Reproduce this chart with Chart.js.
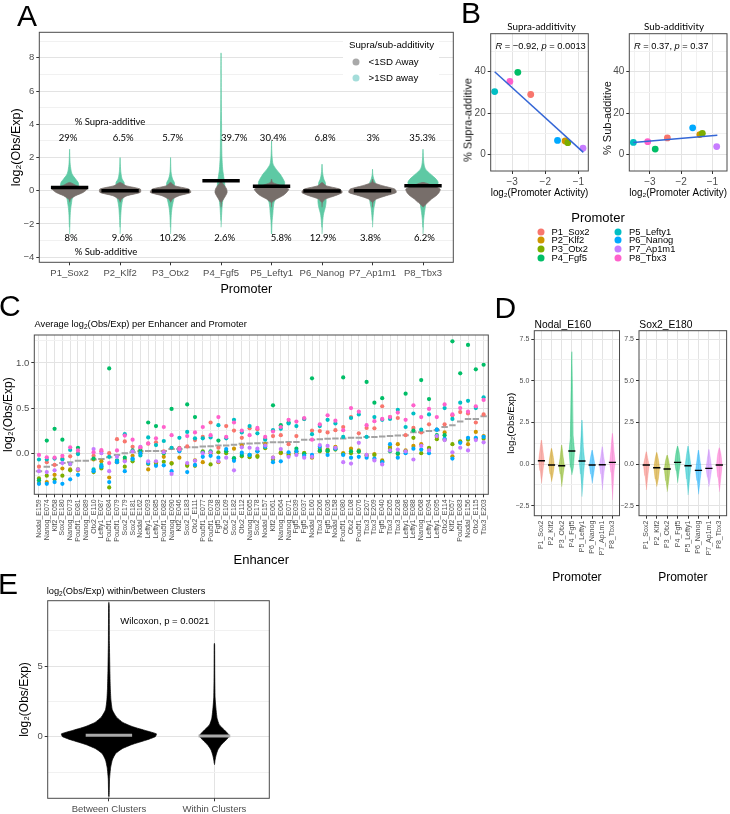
<!DOCTYPE html>
<html lang="en">
<head>
<meta charset="UTF-8" />
<title>Supra- and sub-additivity</title>
<script src="https://cdn.jsdelivr.net/npm/chart.js@4.4.1/dist/chart.umd.min.js"></script>
<style>
  body { margin: 0; background: #fff; }
  #fig { position: relative; width: 730px; height: 814px; overflow: hidden; font-family: "Liberation Sans", Arial, sans-serif; color: #000; }
  #fig canvas { position: absolute; }
  .t { position: absolute; white-space: nowrap; line-height: 1; transform: translateY(-50%); }
  .c { transform: translate(-50%, -50%); }
  .v { transform: translate(-50%, -50%) rotate(-90deg); }
  .letter { font-size: 30px; }
  .myriad { font-family: Lato, "Open Sans", sans-serif; }
  .dot { position: absolute; border-radius: 50%; transform: translate(-50%, -50%); }
  .box { position: absolute; background: #fff; }
  sub { font-size: 70%; vertical-align: -0.25em; line-height: 0; }
</style>
</head>
<body>
<div id="fig">
  <canvas id="chartA" width="460" height="300" style="left:0;top:0"></canvas>
  <canvas id="chartB1" width="134" height="200" style="left:460px;top:0"></canvas>
  <canvas id="chartB2" width="135" height="200" style="left:596px;top:0"></canvas>
  <canvas id="chartC" width="495" height="255" style="left:0;top:318px"></canvas>
  <canvas id="chartD1" width="118" height="272" style="left:505px;top:318px"></canvas>
  <canvas id="chartD2" width="112" height="272" style="left:618px;top:318px"></canvas>
  <canvas id="chartE" width="275" height="224" style="left:0;top:590px"></canvas>

  <!-- panel letters -->
  <div class="t letter" style="left:17px;top:16px">A</div>
  <div class="t letter" style="left:461px;top:13px">B</div>
  <div class="t letter" style="left:-1px;top:306px">C</div>
  <div class="t letter" style="left:494.5px;top:308px">D</div>
  <div class="t letter" style="left:-2px;top:584px">E</div>

  <!-- A legend -->
  <div class="box" style="left:343px;top:37px;width:96px;height:49px"></div>
  <div class="t" style="left:349px;top:44.5px;font-size:9.7px">Supra/sub-additivity</div>
  <div class="dot" style="left:356px;top:62px;width:7px;height:7px;background:#A9A9A9"></div>
  <div class="t" style="left:368.5px;top:62px;font-size:9.7px">&lt;1SD Away</div>
  <div class="dot" style="left:356px;top:78.3px;width:7px;height:7px;background:#A4DDDA"></div>
  <div class="t" style="left:368.5px;top:78.3px;font-size:9.7px">&gt;1SD away</div>

  <!-- B texts -->
  <div class="t c myriad" style="left:541.5px;top:26.5px;font-size:9.8px">Supra-additivity</div>
  <div class="t c myriad" style="left:674px;top:26.7px;font-size:9.8px">Sub-additivity</div>
  <div class="t" style="left:495.5px;top:47.3px;font-size:9.3px"><i>R</i> = &minus;0.92, <i>p</i> = 0.0013</div>
  <div class="t" style="left:634px;top:46.7px;font-size:9.3px"><i>R</i> = 0.37, <i>p</i> = 0.37</div>
  <div class="t v" style="left:468px;top:120px;font-size:11px;color:#111">% Supra-additive</div>
  <div class="t v" style="left:607px;top:118px;font-size:11px;color:#111">% Sub-additive</div>
  <div class="t c" style="left:598px;top:217.3px;font-size:13px">Promoter</div>
  <div id="legendB"></div>

  <!-- C, D, E titles -->
  <div class="t" style="left:34.5px;top:325px;font-size:9.3px">Average log<sub>2</sub>(Obs/Exp) per Enhancer and Promoter</div>
  <div class="t" style="left:534.5px;top:325px;font-size:10.3px">Nodal_E160</div>
  <div class="t" style="left:639.3px;top:325px;font-size:10.3px">Sox2_E180</div>
  <div class="t" style="left:46.7px;top:591.7px;font-size:9.3px">log<sub>2</sub>(Obs/Exp) within/between Clusters</div>
</div>

<script>
// ---------------- data ----------------
const promoters = ['P1_Sox2', 'P2_Klf2', 'P3_Otx2', 'P4_Fgf5', 'P5_Lefty1', 'P6_Nanog', 'P7_Ap1m1', 'P8_Tbx3'];
const promoterColors = ['#F8766D', '#CD9600', '#7CAE00', '#00BE67', '#00BFC4', '#00A9FF', '#C77CFF', '#FF61CC'];

// panel A
const supraPct = [29, 6.5, 5.7, 39.7, 30.4, 6.8, 3, 35.3];
const subPct = [8, 9.6, 10.2, 2.6, 5.8, 12.9, 3.8, 6.2];
const meanA = [0.2, 0.0, -0.02, 0.6, 0.27, -0.02, 0.0, 0.3];
const violinLevels = [-2.6, -2.2, -1.8, -1.4, -1.0, -0.7, -0.5, -0.3, -0.1, 0.1, 0.3, 0.5, 0.7, 1.0, 1.3, 1.6, 2.0, 2.5, 3, 4, 5, 6, 7, 8.3];
// half widths (in category units) of the >1SD (teal) and <1SD (grey) clouds
const tealP1 = [0, 0.004, 0.008, 0.013, 0.025, 0.04, 0.05, 0.08, 0.12, 0.15, 0.18, 0.17, 0.12, 0.05, 0.025, 0.012, 0.005, 0, 0, 0, 0, 0, 0, 0];
const tealP2 = [0, 0.003, 0.008, 0.015, 0.025, 0.04, 0.055, 0.07, 0.08, 0.08, 0.08, 0.08, 0.04, 0.02, 0.01, 0.005, 0, 0, 0, 0, 0, 0, 0, 0];
const tealP3 = [0, 0.004, 0.008, 0.015, 0.03, 0.05, 0.065, 0.07, 0.075, 0.08, 0.08, 0.075, 0.04, 0.015, 0.006, 0.003, 0, 0, 0, 0, 0, 0, 0, 0];
const tealP4 = [0, 0, 0.005, 0.012, 0.02, 0.03, 0.04, 0.06, 0.07, 0.075, 0.075, 0.07, 0.06, 0.045, 0.032, 0.025, 0.018, 0.014, 0.012, 0.01, 0.006, 0.003, 0.002, 0];
const tealP5 = [0.003, 0.006, 0.012, 0.025, 0.035, 0.05, 0.08, 0.1, 0.15, 0.2, 0.25, 0.26, 0.23, 0.17, 0.09, 0.03, 0.012, 0.004, 0, 0, 0, 0, 0, 0];
const tealP6 = [0, 0.006, 0.014, 0.03, 0.065, 0.08, 0.08, 0.07, 0.07, 0.07, 0.07, 0.065, 0.035, 0.015, 0.005, 0, 0, 0, 0, 0, 0, 0, 0, 0];
const tealP7 = [0, 0, 0.006, 0.015, 0.03, 0.05, 0.055, 0.06, 0.06, 0.06, 0.06, 0.055, 0.025, 0.005, 0, 0, 0, 0, 0, 0, 0, 0, 0, 0];
const tealP8 = [0, 0.006, 0.012, 0.025, 0.045, 0.06, 0.1, 0.15, 0.2, 0.25, 0.28, 0.3, 0.26, 0.15, 0.05, 0.02, 0.008, 0, 0, 0, 0, 0, 0, 0];
const greyP1 = [0, 0, 0, 0, 0, 0, 0.02, 0.12, 0.27, 0.34, 0.14, 0, 0, 0, 0, 0, 0, 0, 0, 0, 0, 0, 0, 0];
const greyP2 = [0, 0, 0, 0, 0, 0, 0.03, 0.14, 0.4, 0.4, 0.12, 0, 0, 0, 0, 0, 0, 0, 0, 0, 0, 0, 0, 0];
const greyP3 = [0, 0, 0, 0, 0, 0, 0.04, 0.17, 0.4, 0.36, 0.08, 0, 0, 0, 0, 0, 0, 0, 0, 0, 0, 0, 0, 0];
const greyP4 = [0, 0, 0, 0, 0, 0.01, 0.05, 0.09, 0.12, 0.11, 0.07, 0.02, 0, 0, 0, 0, 0, 0, 0, 0, 0, 0, 0, 0];
const greyP5 = [0, 0, 0, 0, 0, 0.01, 0.1, 0.22, 0.3, 0.34, 0.2, 0.02, 0, 0, 0, 0, 0, 0, 0, 0, 0, 0, 0, 0];
const greyP6 = [0, 0, 0, 0, 0, 0.01, 0.07, 0.26, 0.4, 0.35, 0.08, 0, 0, 0, 0, 0, 0, 0, 0, 0, 0, 0, 0, 0];
const greyP7 = [0, 0, 0, 0, 0, 0.01, 0.08, 0.27, 0.47, 0.44, 0.2, 0.02, 0, 0, 0, 0, 0, 0, 0, 0, 0, 0, 0, 0];
const greyP8 = [0, 0, 0, 0, 0, 0.1, 0.17, 0.26, 0.32, 0.34, 0.2, 0, 0, 0, 0, 0, 0, 0, 0, 0, 0, 0, 0, 0];
const tealWidths = [tealP1, tealP2, tealP3, tealP4, tealP5, tealP6, tealP7, tealP8];
const greyWidths = [greyP1, greyP2, greyP3, greyP4, greyP5, greyP6, greyP7, greyP8];
const supraShift = [-0.03, 0.06, 0.04, 0.26, 0.03, 0.06, 0.01, -0.01];
const subShift = [0.03, 0.04, 0.04, 0.07, 0.19, 0.02, -0.04, 0.03];
const ticksA = [-4, -3, -2, -1, 0, 1, 2, 3, 4, 5, 6, 7, 8, 9];

// panel B
const promoterActivity = [-2.44, -1.40, -1.32, -2.83, -3.53, -1.63, -0.86, -3.07];
const supraFitX = [-3.53, -0.85];
const supraFitY = [40.0, 1.0];
const subFitX = [-3.53, -0.84];
const subFitY = [5.8, 9.3];
const ticksBx = [-3.5, -3, -2.5, -2, -1.5, -1];
const ticksBy = [0, 10, 20, 30, 40, 50];

// panel C
const enhancers = ['Nodal_E159', 'Nanog_E074', 'Klf2_E058', 'Sox2_E180', 'Nanog_E073', 'Pou5f1_E081', 'Nanog_E089', 'Otx2_E110',
  'Lefty1_E087', 'Pou5f1_E084', 'Pou5f1_E079', 'Sox2_E179', 'Sox2_E181', 'Nodal_E162', 'Lefty1_E093', 'Lefty1_E085',
  'Pou5f1_E082', 'Nanog_E090', 'Klf2_E046', 'Sox2_E183', 'Otx2_E111', 'Pou5f1_E077', 'Pou5f1_E078', 'Fgf5_E038',
  'Otx2_E109', 'Sox2_E182', 'Otx2_E112', 'Nanog_E065', 'Sox2_E178', 'Nodal_E157', 'Klf2_E061', 'Nanog_E064',
  'Nanog_E071', 'Fgf5_E039', 'Fgf5_E037', 'Nodal_E160', 'Tbx3_E206', 'Fgf5_E036', 'Nodal_E158', 'Pou5f1_E080',
  'Otx2_E108', 'Pou5f1_E076', 'Tbx3_E207', 'Tbx3_E209', 'Fgf5_E040', 'Tbx3_E205', 'Tbx3_E208', 'Lefty1_E086',
  'Lefty1_E088', 'Nanog_E068', 'Lefty1_E094', 'Lefty1_E095', 'Otx2_E114', 'Klf2_E057', 'Pou5f1_E083', 'Nodal_E156',
  'Otx2_E115', 'Tbx3_E203'];
const cSox2 = [-0.15, -0.10, -0.13, -0.06, -0.035, 0.0, null, -0.03, 0.02, 0.0,
  0.155, 0.13, 0.07, 0.05, 0.105, 0.12, 0.02, 0.055, 0.06, 0.075,
  0.145, 0.18, 0.34, 0.06, 0.30, 0.25, 0.17, 0.275, 0.265, 0.16,
  0.19, 0.20, 0.10, 0.19, 0.38, 0.25, 0.245, 0.23, 0.255, 0.29,
  0.40, 0.22, 0.28, 0.275, 0.52, 0.40, 0.39, 0.20, 0.28, 0.23,
  0.32, 0.26, 0.32, 0.42, 0.455, 0.44, 0.34, 0.43];
const cKlf2 = [-0.33, -0.32, -0.24, -0.17, -0.18, -0.19, null, -0.07, -0.09, -0.27,
  -0.09, -0.075, -0.03, 0.02, -0.18, -0.10, -0.04, -0.11, -0.05, -0.13,
  -0.08, -0.10, 0.0, -0.10, 0.02, 0.05, 0.085, -0.03, -0.03, 0.10,
  -0.05, 0.0, -0.01, 0.02, 0.0, -0.05, 0.05, 0.04, 0.07, 0.0,
  0.05, 0.03, -0.02, -0.01, -0.08, 0.07, 0.10, 0.03, 0.08, 0.10,
  0.05, 0.18, 0.23, -0.035, 0.125, 0.10, 0.235, 0.19];
const cOtx2 = [-0.28, -0.25, -0.29, -0.25, -0.19, -0.18, null, -0.21, -0.17, -0.38,
  -0.10, -0.15, -0.09, 0.0, -0.12, -0.12, -0.095, -0.115, 0.03, -0.14,
  -0.14, 0.02, -0.125, 0.01, 0.0, -0.06, -0.035, -0.045, -0.04, 0.055,
  -0.07, 0.01, -0.02, 0.0, 0.0, -0.04, 0.02, 0.02, 0.04, -0.01,
  0.0, 0.015, -0.03, -0.02, -0.09, 0.05, -0.01, 0.02, 0.17, 0.0,
  0.06, 0.155, 0.15, 0.10, 0.13, 0.15, 0.16, 0.16];
const cFgf5 = [-0.30, 0.14, 0.27, 0.15, -0.12, 0.06, null, -0.06, -0.15, 0.94,
  -0.08, -0.05, 0.03, 0.03, 0.34, 0.30, 0.0, 0.49, 0.05, 0.54,
  0.40, 0.01, 0.02, 0.14, 0.02, -0.055, -0.02, -0.02, 0.02, 0.08,
  0.53, 0.31, 0.34, 0.05, -0.01, 0.83, 0.03, 0.03, 0.05, 0.84,
  0.02, 0.02, 0.79, 0.56, 0.61, 0.02, 0.0, 0.66, 0.25, 0.81,
  0.60, 0.20, 0.20, 1.24, 0.885, 1.20, 0.93, 0.98];
const cLefty1 = [-0.07, -0.07, -0.06, -0.07, 0.035, -0.01, null, -0.18, -0.13, -0.04,
  -0.085, 0.21, -0.07, -0.025, 0.175, 0.09, 0.135, 0.06, 0.17, 0.235,
  0.165, 0.165, 0.175, 0.31, 0.165, 0.37, 0.23, 0.30, 0.22, 0.15,
  0.255, 0.27, 0.33, 0.30, 0.38, 0.21, 0.30, 0.37, 0.33, 0.18,
  0.39, 0.43, 0.18, 0.40, 0.37, 0.38, 0.48, 0.29, 0.44, 0.26,
  0.43, 0.26, 0.50, 0.38, 0.56, 0.58, 0.50, 0.62];
const cNanog = [-0.34, -0.34, -0.32, -0.34, -0.29, -0.24, null, -0.20, -0.15, -0.32,
  -0.10, -0.20, -0.06, 0.0, -0.11, -0.14, -0.135, -0.20, 0.02, -0.21,
  -0.13, -0.04, -0.03, -0.05, 0.045, -0.085, 0.005, -0.02, 0.02, 0.07,
  -0.10, -0.09, 0.01, 0.02, -0.03, -0.02, 0.07, -0.02, 0.05, -0.02,
  -0.05, -0.04, -0.05, -0.06, -0.10, 0.10, -0.05, 0.0, 0.05, 0.04,
  0.0, 0.26, 0.16, -0.06, 0.115, 0.17, 0.17, 0.18];
const cAp1m1 = [-0.20, -0.21, -0.19, -0.11, -0.12, -0.18, null, 0.045, 0.0, -0.20,
  -0.04, -0.09, 0.02, 0.07, -0.09, -0.09, 0.01, -0.23, 0.04, -0.11,
  -0.085, 0.0, 0.01, -0.09, -0.05, -0.19, 0.065, 0.06, 0.05, 0.085,
  -0.05, 0.045, -0.04, -0.02, -0.05, -0.04, 0.09, 0.08, 0.06, -0.10,
  -0.115, 0.115, -0.02, -0.08, -0.125, 0.03, 0.04, 0.02, -0.07, 0.08,
  0.03, 0.19, 0.145, 0.01, 0.06, 0.03, 0.145, 0.12];
const cTbx3 = [-0.02, -0.045, -0.05, -0.03, 0.065, 0.03, null, 0.01, 0.035, -0.11,
  0.03, 0.195, 0.15, 0.065, 0.11, 0.165, 0.29, 0.20, 0.05, 0.19,
  0.23, 0.29, 0.20, 0.40, 0.18, 0.34, 0.25, 0.20, 0.28, 0.18,
  0.24, 0.29, 0.37, 0.35, 0.39, 0.15, 0.32, 0.42, 0.36, 0.255,
  0.50, 0.46, 0.31, 0.355, 0.38, 0.40, 0.45, 0.37, 0.53, 0.40,
  0.49, 0.40, 0.54, 0.43, 0.50, 0.46, 0.52, 0.59];
const cMean = [-0.20, -0.15, -0.13, -0.11, -0.10, -0.085, -0.085, -0.07, -0.065, -0.045,
  -0.02, 0.0, 0.01, 0.02, 0.025, 0.025, 0.025, 0.045, 0.045, 0.065,
  0.065, 0.075, 0.078, 0.085, 0.085, 0.093, 0.104, 0.107, 0.11, 0.115,
  0.12, 0.12, 0.125, 0.125, 0.15, 0.15, 0.155, 0.16, 0.163, 0.163,
  0.17, 0.17, 0.178, 0.178, 0.185, 0.19, 0.196, 0.20, 0.233, 0.233,
  0.245, 0.255, 0.29, 0.31, 0.35, 0.38, 0.38, 0.41];
const ticksCy = [-0.25, 0, 0.25, 0.5, 0.75, 1.0, 1.25];

// panel D (spread of each promoter cloud for two enhancers)
const nodalMin = [-1.16, -1.06, -1.36, -0.66, -1.96, -1.16, -1.56, -2.16];
const nodalLow = [-0.4, -0.6, -0.6, -0.2, -0.6, -0.6, -0.6, -0.5];
const nodalMean = [0.2, -0.06, -0.1, 0.78, 0.18, -0.06, -0.04, 0.1];
const nodalHigh = [0.8, 0.5, 0.4, 1.6, 0.9, 0.4, 0.4, 0.8];
const nodalMax = [1.44, 0.94, 1.14, 6.74, 2.64, 0.84, 1.04, 1.84];
const sox2Min = [-1.56, -1.36, -1.66, -1.12, -1.86, -1.82, -1.36, -1.66];
const sox2Low = [-0.7, -0.9, -1.0, -0.4, -0.9, -1.0, -0.8, -0.8];
const sox2Mean = [-0.06, -0.22, -0.3, 0.1, -0.1, -0.38, -0.26, -0.06];
const sox2High = [0.3, 0.3, 0.2, 0.7, 0.5, 0.2, 0.3, 0.6];
const sox2Max = [0.74, 0.7, 0.54, 1.08, 1.08, 0.84, 0.88, 0.98];
const ticksDy = [-2.5, -1.25, 0, 1.25, 2.5, 3.75, 5, 6.25, 7.5];

// panel E
const clusterNames = ['Between Clusters', 'Within Clusters'];
const clusterMean = [0.1, 0.05];
const betweenLevels = [-4.3, -4.2, -3.7, -3.0, -2.2, -1.65, -1.2, -0.85, -0.55, -0.25, 0.0, 0.2, 0.42, 0.7, 1.0, 1.4, 1.9, 2.6, 3.5, 4.7, 6.6, 9.3, 9.5];
const betweenWidth = [0, 0.002, 0.004, 0.006, 0.016, 0.032, 0.063, 0.126, 0.22, 0.35, 0.44, 0.45, 0.354, 0.227, 0.133, 0.07, 0.032, 0.019, 0.013, 0.009, 0.005, 0.003, 0];
const withinLevels = [-2.0, -1.9, -1.65, -1.3, -0.94, -0.59, -0.24, 0.07, 0.47, 0.83, 1.3, 2.1, 2.8, 4.5, 6.5, 6.6];
const withinWidth = [0, 0.002, 0.006, 0.016, 0.032, 0.063, 0.11, 0.142, 0.095, 0.047, 0.025, 0.013, 0.006, 0.003, 0.002, 0];
const ticksEy = [-2.5, 0, 2.5, 5, 7.5];

// ---------------- helpers ----------------
const TEAL = '#5EC9A4', GREY_BODY = '#776E6A';
const GRID = '#E3E3E3', GRID_MINOR = '#F1F1F1', TICK_LINE = '#333333', TICK_TEXT = '#4D4D4D';
const minus = v => (v < 0 ? '\u2212' : '') + Math.abs(v);
const minus1 = v => (v < 0 ? '\u2212' : '') + Math.abs(v).toFixed(1);
const isMult = (v, m) => Math.abs(v / m - Math.round(v / m)) < 1e-6;
const range = n => Array.from({ length: n }, (_, i) => i);

const notes = {};
Chart.register({
  id: 'frame',
  afterDatasetsDraw(chart) {
    const { ctx, chartArea: a, canvas } = chart;
    ctx.save();
    ctx.strokeStyle = '#4A4A4A';
    ctx.lineWidth = 1;
    ctx.strokeRect(a.left, a.top, a.right - a.left, a.bottom - a.top);
    (notes[canvas.id] || []).forEach(it => {
      ctx.font = it.font;
      ctx.fillStyle = '#000';
      ctx.textAlign = it.align || 'center';
      ctx.textBaseline = 'middle';
      ctx.fillText(it.text, chart.scales.x.getPixelForValue(it.x), chart.scales.y.getPixelForValue(it.y));
    });
    ctx.restore();
  }
});

function axis(o) {
  const major = o.major || (() => true);
  return {
    type: 'linear', min: o.min, max: o.max,
    afterBuildTicks: s => { s.ticks = o.ticks.map(v => ({ value: v })); },
    afterFit: s => { if (s.isHorizontal()) s.height = o.size; else s.width = o.size; },
    border: { display: false },
    grid: {
      drawOnChartArea: o.grid !== false,
      color: c => (c.tick && major(c.tick.value)) ? GRID : GRID_MINOR,
      tickLength: 3,
      tickColor: c => (c.tick && major(c.tick.value)) ? TICK_LINE : 'rgba(0,0,0,0)'
    },
    ticks: {
      autoSkip: false, maxRotation: o.rot || 0, minRotation: o.rot || 0,
      padding: 2, color: TICK_TEXT, font: { size: o.font || 9.5 },
      callback: v => major(v) ? o.label(v) : ''
    },
    title: o.title
      ? { display: true, text: o.title, color: '#000', font: { size: o.titleSize || 12 }, padding: o.titlePad }
      : { display: false }
  };
}

function build(id, datasets, x, y, top, right) {
  return new Chart(document.getElementById(id), {
    type: 'line',
    data: { datasets },
    options: {
      responsive: false, animation: false, devicePixelRatio: 1, events: [],
      layout: { padding: { top, right, bottom: 0, left: 0 } },
      plugins: { legend: { display: false }, tooltip: { enabled: false } },
      scales: { x, y }
    }
  });
}

// closed outline of a cloud: up the right side, back down the left side
function violinPath(center, levels, widths) {
  let a = widths.findIndex(w => w > 0);
  let b = widths.length - 1 - [...widths].reverse().findIndex(w => w > 0);
  a = Math.max(0, a - 1);
  b = Math.min(widths.length - 1, b + 1);
  const pts = [];
  for (let k = a; k <= b; k++) pts.push({ x: center + widths[k], y: levels[k] });
  for (let k = widths[b] === 0 ? b - 1 : b; k >= (widths[a] === 0 ? a + 1 : a); k--) pts.push({ x: center - widths[k], y: levels[k] });
  return pts;
}
function shape(points, color, order, tension, edge) {
  return { data: points, fill: 'shape', backgroundColor: color, borderColor: color, borderWidth: edge || 0.7, pointRadius: 0, tension, order };
}
function bar(center, value, half, color, width, order) {
  return { data: [{ x: center - half, y: value }, { x: center + half, y: value }], fill: false, borderColor: color, borderWidth: width, pointRadius: 0, borderCapStyle: 'butt', order };
}

// ---------------- A ----------------
const dsA = [];
promoters.forEach((p, i) => {
  dsA.push(shape(violinPath(i, violinLevels, tealWidths[i]), TEAL, 3, 0.25));
  dsA.push(shape(violinPath(i, violinLevels, greyWidths[i]), GREY_BODY, 2, 0.25));
  dsA.push(bar(i, meanA[i], 0.37, '#000', 3.5, 1));
});
notes.chartA = [
  { x: 0.1, y: 4.16, text: '% Supra-additive', font: '9.5px Lato', align: 'left' },
  { x: 0.1, y: -3.7, text: '% Sub-additive', font: '9.5px Lato', align: 'left' },
  ...supraPct.map((v, i) => ({ x: i + supraShift[i], y: 3.2, text: v + '%', font: '9.5px Lato' })),
  ...subPct.map((v, i) => ({ x: i + subShift[i], y: -2.83, text: v + '%', font: '9.5px Lato' }))
];
build('chartA', dsA,
  axis({ min: -0.6, max: 7.6, ticks: range(8), label: v => promoters[v], grid: false, size: 37.7,
    title: 'Promoter', titleSize: 12.6, titlePad: { top: 0, bottom: 3.2 } }),
  axis({ min: -4.31, max: 9.54, ticks: ticksA, major: v => isMult(v, 2), label: minus, size: 39.3,
    title: 'log\u2082(Obs/Exp)', titleSize: 12.5, titlePad: { top: 9.2, bottom: 0 } }),
  32.3, 6.7);

// ---------------- B ----------------
function bSets(fitX, fitY, pct) {
  return [
    { data: fitX.map((x, k) => ({ x, y: fitY[k] })), fill: false, borderColor: '#3466D6', borderWidth: 1.5, pointRadius: 0, order: 1 },
    { data: promoterActivity.map((x, i) => ({ x, y: pct[i] })), showLine: false, pointRadius: 3.4,
      pointBackgroundColor: promoterColors, pointBorderWidth: 0, order: 2 }
  ];
}
const bY = size => axis({ min: -8.0, max: 58.4, ticks: ticksBy, major: v => isMult(v, 20), label: minus, size, font: 10 });
build('chartB1', bSets(supraFitX, supraFitY, supraPct),
  axis({ min: -3.65, max: -0.70, ticks: ticksBx, major: v => isMult(v, 1), label: minus, size: 29, font: 10,
    title: 'log\u2082(Promoter Activity)', titleSize: 10.5, titlePad: { top: 0, bottom: 0.4 } }),
  bY(30.7), 33.7, 5.7);
build('chartB2', bSets(subFitX, subFitY, subPct),
  axis({ min: -3.66, max: -0.53, ticks: ticksBx, major: v => isMult(v, 1), label: minus, size: 29, font: 10,
    title: 'log\u2082(Promoter Activity)', titleSize: 10.5, titlePad: { top: 0, bottom: 0.4 } }),
  bY(33.3), 33.7, 0);

// B legend
const legendB = document.getElementById('legendB');
const legendRows = [231.5, 240.2, 248.9, 257.6];
promoters.forEach((p, i) => {
  const col = i < 4 ? 0 : 1, row = legendRows[i % 4];
  const dx = col ? 618.3 : 541, tx = col ? 629 : 551.5;
  legendB.insertAdjacentHTML('beforeend',
    `<div class="dot" style="left:${dx}px;top:${row}px;width:7px;height:7px;background:${promoterColors[i]}"></div>` +
    `<div class="t" style="left:${tx}px;top:${row}px;font-size:9.4px">${p}</div>`);
});

// ---------------- C ----------------
const cSeries = [cSox2, cKlf2, cOtx2, cFgf5, cLefty1, cNanog, cAp1m1, cTbx3];
const dsC = cSeries.map((arr, p) => ({
  data: arr.map((y, i) => (y == null ? null : { x: i, y })).filter(Boolean),
  showLine: false, pointRadius: 2.1, pointBackgroundColor: promoterColors[p], pointBorderWidth: 0, order: 8 - p
}));
dsC.push({ data: cMean.map((y, i) => ({ x: i, y })), showLine: false, pointStyle: 'line', pointRadius: 3.2,
  pointBorderColor: '#A3A3A3', pointBorderWidth: 2, order: 9 });
build('chartC', dsC,
  axis({ min: -0.6, max: 57.6, ticks: range(58), label: v => enhancers[v], rot: 90, font: 7, size: 78.7,
    title: 'Enhancer', titleSize: 13, titlePad: { top: 0, bottom: 5.2 } }),
  axis({ min: -0.456, max: 1.31, ticks: ticksCy, major: v => isMult(v, 0.5), label: v => v.toFixed(1), size: 34.3,
    title: 'log\u2082(Obs/Exp)', titleSize: 12, titlePad: { top: 1.1, bottom: 0 } }),
  17, 6.7);

// ---------------- D ----------------
function cloudPath(c, lo, q1, m, q3, hi) {
  return [{ x: c, y: lo }, { x: c + 0.15, y: q1 }, { x: c + 0.26, y: m }, { x: c + 0.15, y: q3 }, { x: c, y: hi },
    { x: c - 0.15, y: q3 }, { x: c - 0.26, y: m }, { x: c - 0.15, y: q1 }];
}
function dSets(mins, lows, means, highs, maxs) {
  const ds = [];
  promoters.forEach((p, i) => {
    ds.push(shape(cloudPath(i, mins[i], lows[i], means[i], highs[i], maxs[i]), promoterColors[i] + '8C', 2, 0.15, 0.6));
    ds.push(bar(i, means[i], 0.35, '#000', 1.4, 1));
  });
  return ds;
}
const dX = () => axis({ min: -0.7, max: 7.7, ticks: range(8), label: v => promoters[v], rot: 90, font: 7, size: 74.3,
  title: 'Promoter', titleSize: 12, titlePad: { top: 0, bottom: 4.8 } });
build('chartD1', dSets(nodalMin, nodalLow, nodalMean, nodalHigh, nodalMax), dX(),
  axis({ min: -3.1, max: 8.0, ticks: ticksDy, major: v => isMult(v, 2.5), label: minus1, size: 29.3, font: 7,
    title: 'log\u2082(Obs/Exp)', titleSize: 9.8, titlePad: { top: 0, bottom: 0 } }),
  12.7, 2.3);
build('chartD2', dSets(sox2Min, sox2Low, sox2Mean, sox2High, sox2Max), dX(),
  axis({ min: -3.1, max: 8.0, ticks: ticksDy, major: v => isMult(v, 2.5), label: minus1, size: 21, font: 7 }),
  12.7, 3.3);

// ---------------- E ----------------
const dsE = [
  shape(violinPath(1, betweenLevels, betweenWidth), '#000', 3, 0.15),
  shape(violinPath(2, withinLevels, withinWidth), '#000', 3, 0.15),
  bar(1, clusterMean[0], 0.22, '#A9A9A9', 3, 1),
  bar(2, clusterMean[1], 0.15, '#A9A9A9', 3, 1)
];
notes.chartE = [{ x: 1.53, y: 8.15, text: 'Wilcoxon, p = 0.0021', font: '9.5px "Liberation Sans"' }];
build('chartE', dsE,
  axis({ min: 0.42, max: 2.52, ticks: [1, 2], label: v => clusterNames[v - 1], size: 15.7 }),
  axis({ min: -4.36, max: 9.62, ticks: ticksEy, major: v => isMult(v, 5), label: v => String(v), size: 47.7,
    title: 'log\u2082(Obs/Exp)', titleSize: 12, titlePad: { top: 17.8, bottom: 0 } }),
  10.7, 5.7);
</script>
</body>
</html>
